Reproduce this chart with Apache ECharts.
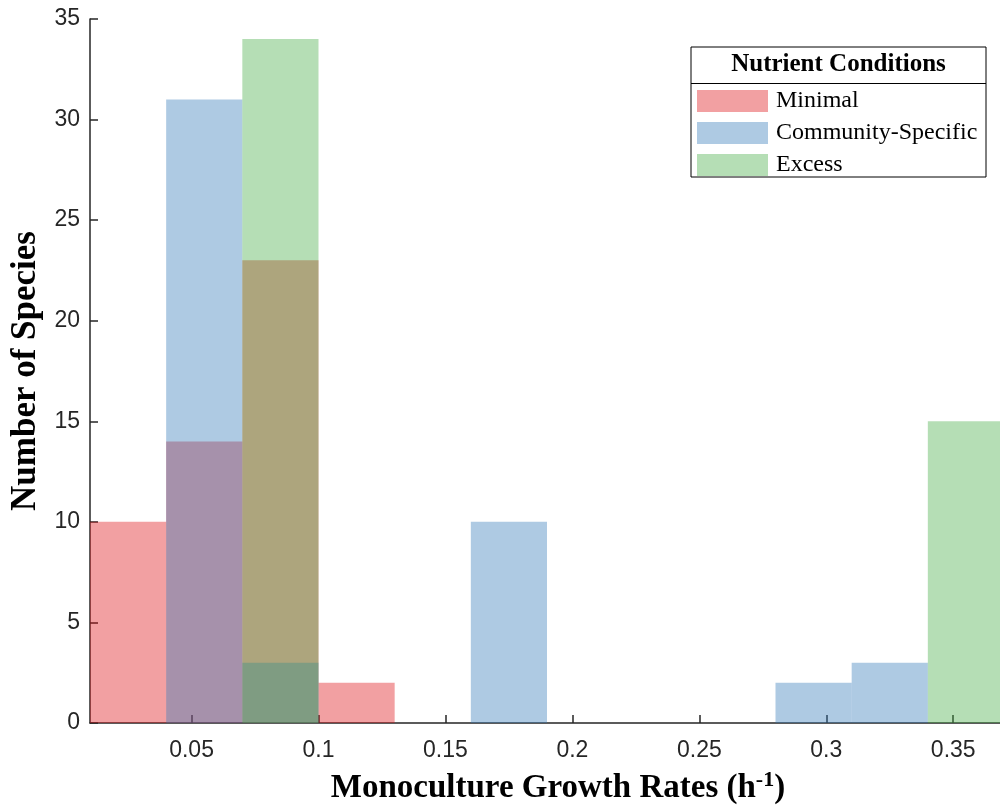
<!DOCTYPE html>
<html>
<head>
<meta charset="utf-8">
<script src="https://cdn.jsdelivr.net/npm/echarts@6/dist/echarts.min.js"></script>
<style>html,body{margin:0;padding:0;background:#fff;}#c{width:1000px;height:812px;}</style>
</head>
<body>
<div id="c"></div>
<script>
// Bin edges (h^-1)
const binEdges = [0.01, 0.04, 0.07, 0.10, 0.13, 0.16, 0.19, 0.22, 0.25, 0.28, 0.31, 0.34, 0.37];
// Counts per bin
const minimalCounts   = [10, 14, 23, 2, 0, 0, 0, 0, 0, 0, 0, 0];
const communityCounts = [0, 31, 3, 0, 0, 10, 0, 0, 0, 2, 3, 0];
const excessCounts    = [0, 0, 34, 0, 0, 0, 0, 0, 0, 0, 0, 15];
const seriesNames = ['Minimal', 'Community-Specific', 'Excess'];
const xTicks = [0.05, 0.1, 0.15, 0.2, 0.25, 0.3, 0.35];

const colors = ['rgba(222,17,22,0.4)', 'rgba(52,122,185,0.4)', 'rgba(70,172,70,0.4)'];
const axisColor = '#262626';

function histData(counts) {
  return counts.map((c, i) => [binEdges[i], binEdges[i + 1], c]).filter(d => d[2] > 0);
}

function renderBin(params, api) {
  const p0 = api.coord([api.value(0), 0]);
  const p1 = api.coord([api.value(1), api.value(2)]);
  return {
    type: 'rect',
    shape: { x: p0[0], y: p1[1], width: p1[0] - p0[0], height: p0[1] - p1[1] },
    style: { fill: api.visual('color') }
  };
}

const allCounts = [minimalCounts, communityCounts, excessCounts];

const chart = echarts.init(document.getElementById('c'), null, { renderer: 'canvas' });
chart.setOption({
  animation: false,
  backgroundColor: '#fff',
  grid: { left: 90, top: 19, width: 914, height: 704, containLabel: false, outerBoundsMode: 'none' },
  xAxis: {
    type: 'value', min: 0.01, max: 0.37,
    name: '{a|Monoculture Growth Rates (h}{s|-1}{a|)}',
    nameLocation: 'middle', nameGap: 46,
    nameTextStyle: {
      padding: [0, 0, 0, 22],
      rich: {
        a: { fontFamily: 'Liberation Serif', fontWeight: 'bold', fontSize: 33, color: '#000' },
        s: { fontFamily: 'Liberation Serif', fontWeight: 'bold', fontSize: 22, color: '#000', padding: [0, 0, 17, 0] }
      }
    },
    axisLine: { show: true, lineStyle: { color: axisColor, width: 1.5 } },
    axisTick: { show: true, inside: true, length: 8, customValues: xTicks, lineStyle: { color: axisColor, width: 1.5 } },
    axisLabel: { customValues: xTicks, margin: 16, fontFamily: 'Liberation Sans', fontSize: 23, color: axisColor },
    splitLine: { show: false }
  },
  yAxis: {
    type: 'value', min: 0, max: 35, interval: 5,
    name: 'Number of Species',
    nameLocation: 'middle', nameRotate: 90, nameGap: 45,
    nameTextStyle: { fontFamily: 'Liberation Serif', fontWeight: 'bold', fontSize: 35, color: '#000' },
    axisLine: { show: true, lineStyle: { color: axisColor, width: 1.5 } },
    axisTick: { show: true, inside: true, length: 8, lineStyle: { color: axisColor, width: 1.5 } },
    axisLabel: { margin: 10, fontFamily: 'Liberation Sans', fontSize: 23, color: axisColor },
    splitLine: { show: false }
  },
  legend: {
    orient: 'vertical', left: 697, top: 89, z: 10,
    itemWidth: 71, itemHeight: 22, itemGap: 8, padding: 0,
    icon: 'rect',
    selectedMode: false,
    data: seriesNames,
    textStyle: { fontFamily: 'Liberation Serif', fontSize: 24, color: '#000', padding: [0, 0, 0, 3] }
  },
  graphic: [
    { type: 'rect', z: 5, shape: { x: 691, y: 47, width: 295, height: 130 },
      style: { fill: '#fff', stroke: '#000', lineWidth: 1 } },
    { type: 'line', z: 6, shape: { x1: 691, y1: 83.5, x2: 986, y2: 83.5 },
      style: { stroke: '#000', lineWidth: 1 } },
    { type: 'text', z: 6, x: 838.5, y: 65,
      style: { text: 'Nutrient Conditions', fontFamily: 'Liberation Serif', fontWeight: 'bold', fontSize: 25,
               fill: '#000', align: 'center', verticalAlign: 'middle' } }
  ],
  series: seriesNames.map((name, k) => ({
    type: 'custom', name: name,
    renderItem: renderBin,
    itemStyle: { color: colors[k] },
    encode: { x: [0, 1], y: 2 },
    data: histData(allCounts[k]),
    z: 2 + k
  }))
});
</script>
</body>
</html>
